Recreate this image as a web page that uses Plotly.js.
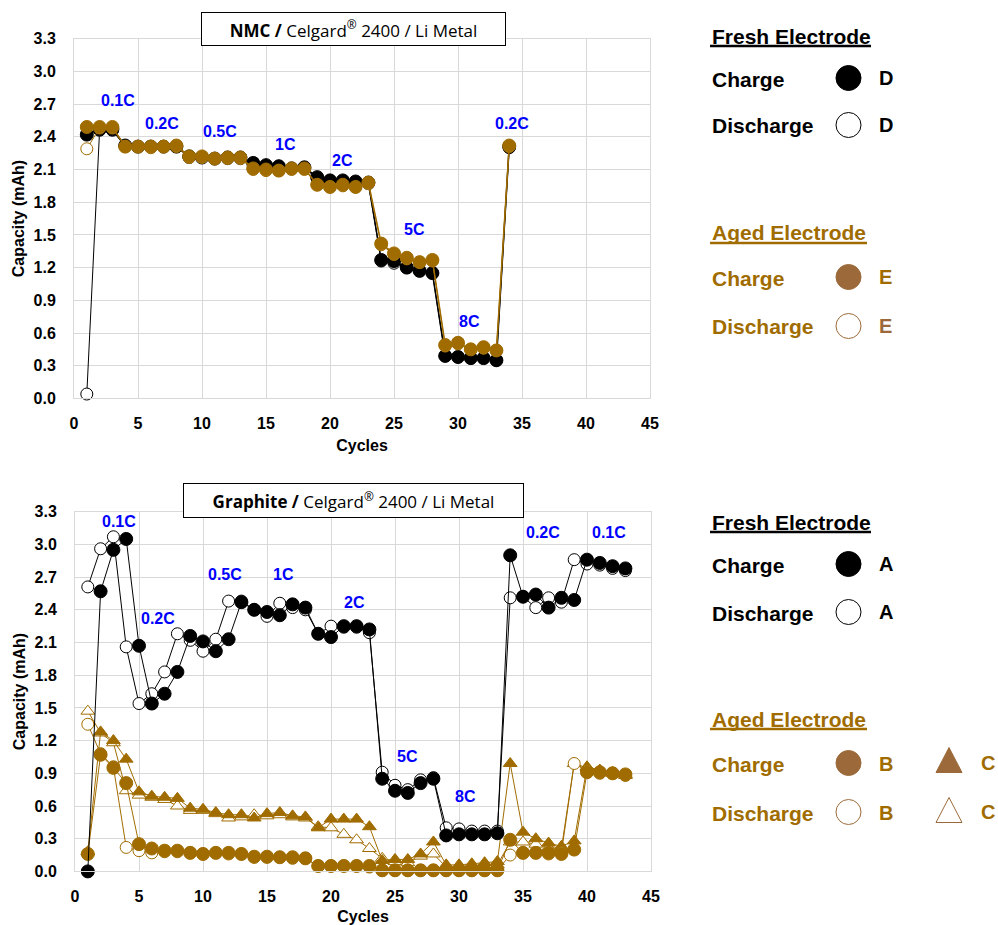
<!DOCTYPE html>
<html><head><meta charset="utf-8">
<script src="https://cdn.plot.ly/plotly-3.0.1.min.js"></script>
<style>html,body{margin:0;padding:0;background:#fff;}#chart{width:998px;height:925px;}</style>
</head><body><div id="chart"></div>
<script>
// ---------- DATA ----------
const cyclesNMC = [1,2,3,4,5,6,7,8,9,10,11,12,13,14,15,16,17,18,19,20,21,22,23,24,25,26,27,28,29,30,31,32,33,34];
const nmcChargeD    = [2.42,2.47,2.47,2.32,2.31,2.31,2.31,2.31,2.22,2.21,2.20,2.21,2.21,2.16,2.14,2.13,2.11,2.12,2.03,2.00,2.00,1.99,1.98,1.27,1.26,1.20,1.17,1.15,0.39,0.38,0.37,0.37,0.35,2.31];
const nmcDischargeD = [0.04,2.46,2.46,2.31,2.31,2.31,2.31,2.31,2.21,2.21,2.20,2.20,2.20,2.15,2.13,2.13,2.11,2.11,2.02,2.00,1.99,1.98,1.97,1.26,1.24,1.20,1.17,1.15,0.39,0.38,0.37,0.37,0.35,2.30];
const nmcChargeE    = [2.49,2.49,2.49,2.31,2.31,2.31,2.31,2.32,2.22,2.22,2.20,2.21,2.21,2.11,2.10,2.09,2.11,2.11,1.96,1.94,1.96,1.94,1.98,1.42,1.33,1.29,1.25,1.27,0.49,0.51,0.45,0.47,0.44,2.32];
const nmcDischargeE = [2.29,2.48,2.48,2.31,2.31,2.30,2.31,2.31,2.21,2.21,2.20,2.20,2.20,2.10,2.09,2.09,2.10,2.10,1.96,1.94,1.95,1.94,1.97,1.41,1.32,1.28,1.25,1.26,0.48,0.50,0.45,0.46,0.44,2.31];

const cyclesGr = [1,2,3,4,5,6,7,8,9,10,11,12,13,14,15,16,17,18,19,20,21,22,23,24,25,26,27,28,29,30,31,32,33,34,35,36,37,38,39,40,41,42,43];
const grChargeA    = [0.00,2.57,2.95,3.05,2.07,1.54,1.63,1.83,2.16,2.11,2.02,2.13,2.47,2.40,2.38,2.35,2.45,2.42,2.18,2.15,2.25,2.25,2.22,0.85,0.74,0.72,0.81,0.85,0.33,0.34,0.34,0.34,0.35,2.90,2.52,2.54,2.42,2.51,2.49,2.86,2.83,2.80,2.78];
const grDischargeA = [2.61,2.96,3.07,2.06,1.54,1.63,1.83,2.18,2.12,2.02,2.13,2.48,2.48,2.40,2.34,2.46,2.42,2.40,2.18,2.25,2.24,2.24,2.19,0.91,0.79,0.75,0.84,0.86,0.40,0.39,0.37,0.37,0.37,2.51,2.52,2.42,2.51,2.47,2.86,2.82,2.81,2.78,2.76];
const grChargeB    = [0.16,1.07,0.95,0.81,0.25,0.21,0.19,0.19,0.17,0.16,0.17,0.17,0.16,0.135,0.135,0.13,0.13,0.12,0.05,0.05,0.05,0.05,0.05,0.01,0.01,0.01,0.01,0.01,0.01,0.01,0.01,0.01,0.01,0.29,0.17,0.17,0.17,0.16,0.20,0.91,0.91,0.90,0.89];
const grDischargeB = [1.35,1.08,0.96,0.22,0.19,0.17,0.18,0.18,0.17,0.16,0.17,0.16,0.16,0.13,0.13,0.13,0.12,0.12,0.05,0.05,0.05,0.05,0.04,0.01,0.01,0.01,0.01,0.01,0.01,0.01,0.01,0.01,0.01,0.15,0.17,0.17,0.16,0.17,0.99,0.92,0.90,0.90,0.88];
const grChargeC    = [0.18,1.28,1.20,1.03,0.73,0.69,0.68,0.67,0.58,0.57,0.54,0.52,0.52,0.49,0.53,0.54,0.51,0.50,0.40,0.48,0.48,0.48,0.41,0.10,0.11,0.11,0.16,0.27,0.06,0.06,0.07,0.08,0.09,0.99,0.36,0.30,0.26,0.23,0.28,0.96,0.93,0.91,0.89];
const grDischargeC = [1.47,1.27,1.18,0.74,0.70,0.68,0.66,0.60,0.56,0.56,0.53,0.49,0.50,0.52,0.51,0.52,0.50,0.49,0.41,0.40,0.34,0.29,0.21,0.12,0.09,0.08,0.14,0.16,0.04,0.04,0.05,0.05,0.06,0.27,0.27,0.25,0.22,0.21,0.99,0.95,0.92,0.90,0.88];

const yTicks = [0,0.3,0.6,0.9,1.2,1.5,1.8,2.1,2.4,2.7,3.0,3.3];
const yTickText = ['0.0','0.3','0.6','0.9','1.2','1.5','1.8','2.1','2.4','2.7','3.0','3.3'];
const xTicks = [0,5,10,15,20,25,30,35,40,45];

const rateNMC  = ['0.1C','0.2C','0.5C','1C','2C','5C','8C','0.2C'];
const rateNMCx = [3.4,6.9,11.4,16.5,21.0,26.6,30.9,34.2];
const rateNMCy = [2.73,2.52,2.45,2.33,2.18,1.55,0.71,2.52];
const rateGr   = ['0.1C','0.2C','0.5C','1C','2C','5C','8C','0.2C','0.1C'];
const rateGrx  = [3.4,6.5,11.7,16.3,21.8,26.0,30.5,36.6,41.7];
const rateGry  = [3.21,2.32,2.72,2.72,2.47,1.05,0.69,3.11,3.11];

// ---------- STYLE ----------
const BLACK = '#000000';
const GOLD = '#A06C00';
const BROWN = '#9C6A3A';
const W = 998, H = 925;
const px = v => v / W;
const py = v => 1 - v / H;
const FONT = 'Liberation Sans, Arial, sans-serif';

function tr(x, y, xa, ya, color, filled, symbol, size, lw) {
  return {
    x: x, y: y, xaxis: xa, yaxis: ya, type: 'scatter', mode: 'lines+markers',
    line: {color: color, width: lw},
    marker: {symbol: symbol, size: size, color: filled ? color : '#ffffff', line: {color: color, width: 1}},
    hoverinfo: 'skip', cliponaxis: false
  };
}

const data = [
  tr(cyclesNMC, nmcDischargeD, 'x', 'y', BLACK, false, 'circle', 12, 1),
  tr(cyclesNMC, nmcChargeD, 'x', 'y', BLACK, true, 'circle', 13, 1.5),
  tr(cyclesNMC, nmcDischargeE, 'x', 'y', GOLD, false, 'circle', 12, 1),
  tr(cyclesNMC, nmcChargeE, 'x', 'y', GOLD, true, 'circle', 13, 1.5),

  tr(cyclesGr, grDischargeC, 'x2', 'y2', GOLD, false, 'triangle-up', 12, 1),
  tr(cyclesGr, grChargeC, 'x2', 'y2', GOLD, true, 'triangle-up', 12, 1),
  tr(cyclesGr, grDischargeB, 'x2', 'y2', GOLD, false, 'circle', 12, 1),
  tr(cyclesGr, grChargeB, 'x2', 'y2', GOLD, true, 'circle', 13, 1),
  tr(cyclesGr, grDischargeA, 'x2', 'y2', BLACK, false, 'circle', 12, 1),
  tr(cyclesGr, grChargeA, 'x2', 'y2', BLACK, true, 'circle', 13, 1)
];

function xax(domain, anchor) {
  return {
    domain: domain, anchor: anchor, range: [0, 45], tickmode: 'array', tickvals: xTicks,
    showgrid: true, gridcolor: '#d9d9d9', gridwidth: 1, zeroline: false,
    showline: true, linecolor: '#d9d9d9', linewidth: 1, mirror: true,
    ticks: '', ticklabelstandoff: 10,
    tickfont: {family: FONT, size: 16, color: '#000', weight: 'bold'},
    title: {text: 'Cycles', font: {family: FONT, size: 16, color: '#000', weight: 'bold'}, standoff: 9},
    fixedrange: true
  };
}
function yax(domain, anchor) {
  return {
    domain: domain, anchor: anchor, range: [0, 3.3], tickmode: 'array', tickvals: yTicks, ticktext: yTickText,
    showgrid: true, gridcolor: '#d9d9d9', gridwidth: 1, zeroline: false,
    showline: true, linecolor: '#d9d9d9', linewidth: 1, mirror: true,
    ticks: '', ticklabelstandoff: 14,
    tickfont: {family: FONT, size: 16, color: '#000', weight: 'bold'},
    title: {text: 'Capacity (mAh)', font: {family: FONT, size: 16, color: '#000', weight: 'bold'}, standoff: 4},
    fixedrange: true
  };
}

const annotations = [];
rateNMC.forEach((t, i) => annotations.push({xref: 'x', yref: 'y', x: rateNMCx[i], y: rateNMCy[i], text: '<b>' + t + '</b>', showarrow: false, font: {family: FONT, size: 16, color: '#0000FF'}}));
rateGr.forEach((t, i) => annotations.push({xref: 'x2', yref: 'y2', x: rateGrx[i], y: rateGry[i], text: '<b>' + t + '</b>', showarrow: false, font: {family: FONT, size: 16, color: '#0000FF'}}));

// Title boxes
annotations.push({xref: 'paper', yref: 'paper', x: px(353.5), y: py(29), xanchor: 'center', yanchor: 'middle',
  text: '<b>NMC /</b> Celgard<sup>®</sup> 2400 / Li Metal', showarrow: false,
  font: {family: 'Open Sans, sans-serif', size: 17, color: '#000'},
  bgcolor: '#ffffff', bordercolor: '#000000', borderwidth: 1, borderpad: 0, width: 303, height: 32});
annotations.push({xref: 'paper', yref: 'paper', x: px(353.5), y: py(500), xanchor: 'center', yanchor: 'middle',
  text: '<b>Graphite /</b> Celgard<sup>®</sup> 2400 / Li Metal', showarrow: false,
  font: {family: 'Open Sans, sans-serif', size: 17, color: '#000'},
  bgcolor: '#ffffff', bordercolor: '#000000', borderwidth: 1, borderpad: 0, width: 339, height: 33});

const shapes = [];
function legText(t, x, y, color, size) {
  annotations.push({xref: 'paper', yref: 'paper', x: px(x), y: py(y), xanchor: 'left', yanchor: 'middle',
    text: '<b>' + t + '</b>', showarrow: false, font: {family: FONT, size: size, color: color}});
}
function legLetter(t, x, y, color) {
  annotations.push({xref: 'paper', yref: 'paper', x: px(x), y: py(y), xanchor: 'center', yanchor: 'middle',
    text: '<b>' + t + '</b>', showarrow: false, font: {family: FONT, size: 20, color: color}});
}
function underline(x0, x1, y, color) {
  shapes.push({type: 'line', xref: 'paper', yref: 'paper', x0: px(x0), x1: px(x1), y0: py(y), y1: py(y), line: {color: color, width: 2.5}});
}
function circ(cx, cy, color, filled) {
  const r = 12.5;
  shapes.push({type: 'circle', xref: 'paper', yref: 'paper', x0: px(cx - r), x1: px(cx + r), y0: py(cy + r), y1: py(cy - r),
    line: {color: color, width: 1}, fillcolor: filled ? color : '#ffffff'});
}
function tri(cx, cy, color, filled) {
  const p = 'M ' + px(cx - 13) + ' ' + py(cy + 12.5) + ' L ' + px(cx + 13) + ' ' + py(cy + 12.5) + ' L ' + px(cx) + ' ' + py(cy - 12.5) + ' Z';
  shapes.push({type: 'path', xref: 'paper', yref: 'paper', path: p, line: {color: color, width: 1}, fillcolor: filled ? color : '#ffffff'});
}

// Legend top
legText('Fresh Electrode', 710, 36, BLACK, 21); underline(710, 871, 46, BLACK);
legText('Charge', 710, 79, BLACK, 21); circ(848.5, 78, BLACK, true); legLetter('D', 885.5, 78, BLACK);
legText('Discharge', 710, 126, BLACK, 21); circ(848.5, 125, BLACK, false); legLetter('D', 885.5, 125, BLACK);
legText('Aged Electrode', 710, 233, GOLD, 21); underline(710, 867, 243, GOLD);
legText('Charge', 710, 278, GOLD, 21); circ(848.5, 277, BROWN, true); legLetter('E', 885.5, 277, GOLD);
legText('Discharge', 710, 327, GOLD, 21); circ(848.5, 326, BROWN, false); legLetter('E', 885.5, 326, BROWN);

// Legend bottom
legText('Fresh Electrode', 710, 522, BLACK, 21); underline(710, 871, 532, BLACK);
legText('Charge', 710, 565, BLACK, 21); circ(848.5, 564, BLACK, true); legLetter('A', 885.5, 564, BLACK);
legText('Discharge', 710, 613, BLACK, 21); circ(848.5, 612, BLACK, false); legLetter('A', 885.5, 612, BLACK);
legText('Aged Electrode', 710, 719, GOLD, 21); underline(710, 867, 729, GOLD);
legText('Charge', 710, 764, GOLD, 21); circ(848.5, 763, BROWN, true); legLetter('B', 885.5, 764, GOLD);
tri(949, 760, BROWN, true); legLetter('C', 988, 763, GOLD);
legText('Discharge', 710, 813, GOLD, 21); circ(848.5, 812, BROWN, false); legLetter('B', 885.5, 813, GOLD);
tri(949, 810, BROWN, false); legLetter('C', 988, 812, GOLD);

const layout = {
  width: W, height: H, margin: {l: 0, r: 0, t: 0, b: 0},
  paper_bgcolor: '#ffffff', plot_bgcolor: '#ffffff', showlegend: false,
  xaxis: xax([px(74), px(650)], 'y'),
  yaxis: yax([py(398.4), py(38.7)], 'x'),
  xaxis2: xax([px(75), px(651)], 'y2'),
  yaxis2: yax([py(871.4), py(511.7)], 'x2'),
  annotations: annotations, shapes: shapes
};

Plotly.newPlot('chart', data, layout, {displayModeBar: false, staticPlot: true});
</script></body></html>
